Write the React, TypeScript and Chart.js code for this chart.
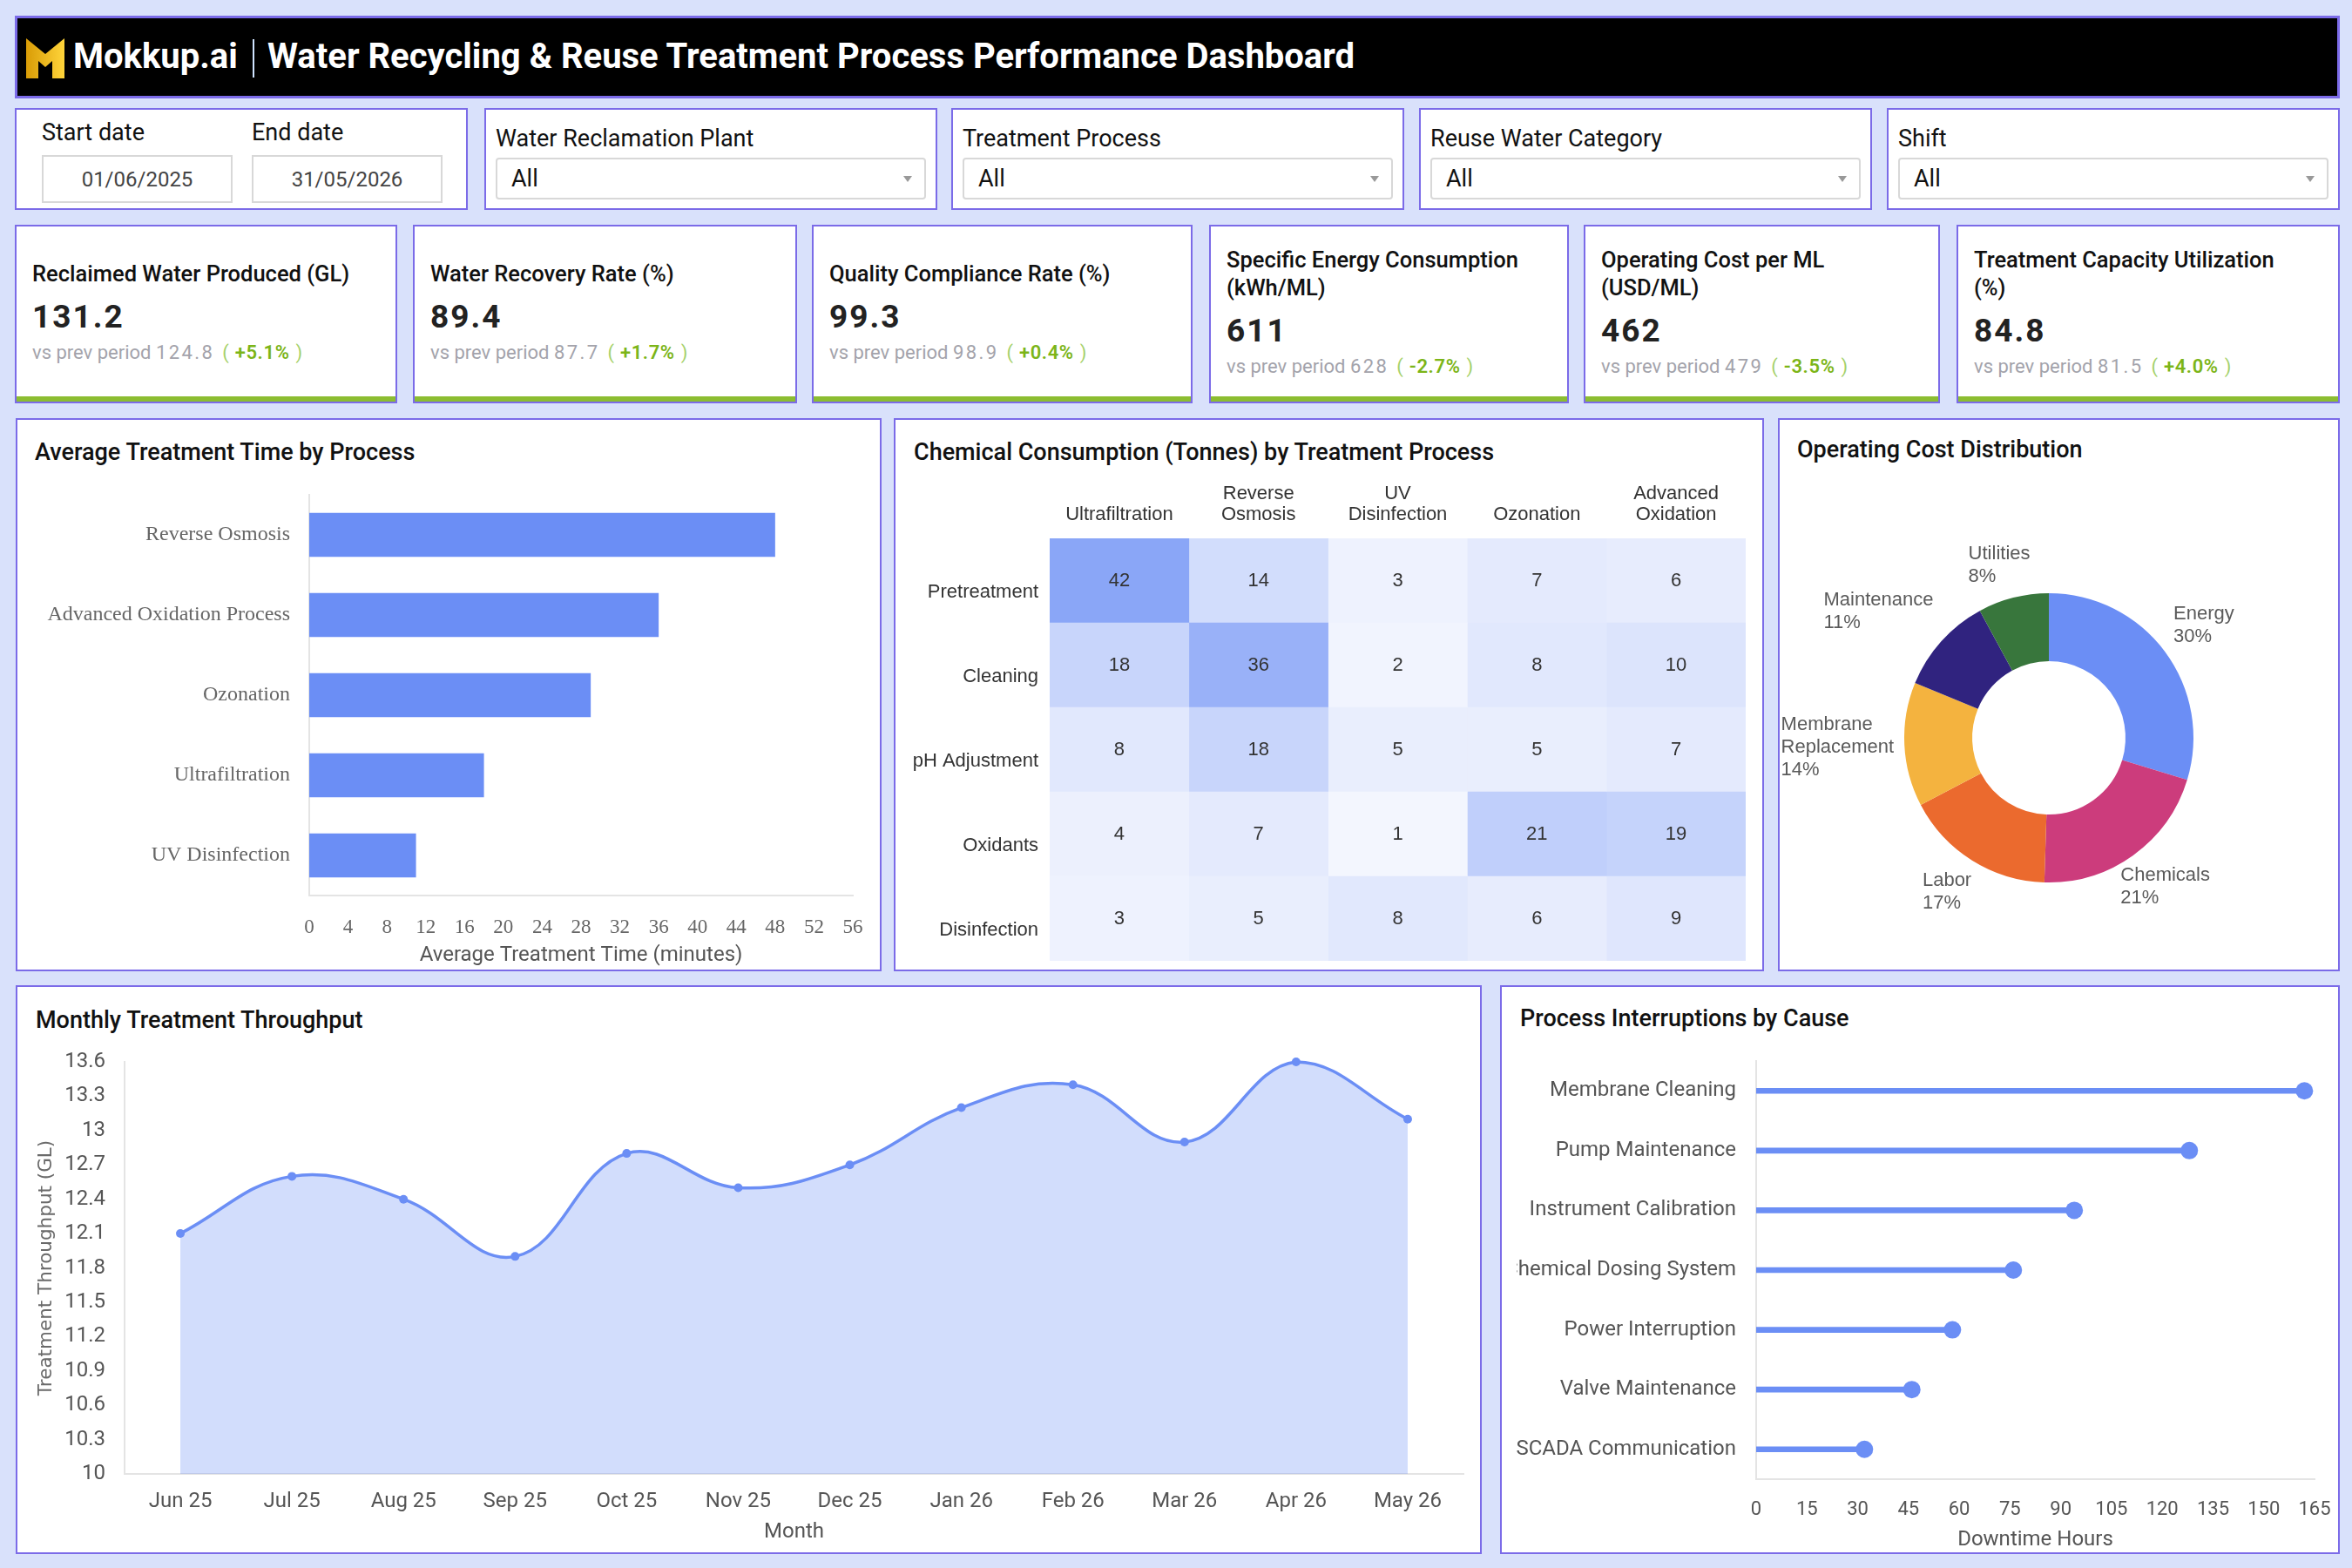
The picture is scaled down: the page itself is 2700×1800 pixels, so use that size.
import React, { useEffect, useRef } from "react";
import { Chart, registerables } from "chart.js";

Chart.register(...registerables);

const BLUE = "#6b8ef5";
const PURPLE = "#7b6be8";
const BG = "#d9e1fb";
const GREEN = "#8cbd31";
const SANS = "Roboto, 'Noto Sans', sans-serif";
const ARIAL = "'Liberation Sans', Arial, sans-serif";
const SERIF = "'Liberation Serif', 'Times New Roman', serif";
const DEJAVU = "'DejaVu Sans', sans-serif";

// ---------------- data ----------------
const kpiTitles = [
  "Reclaimed Water Produced (GL)",
  "Water Recovery Rate (%)",
  "Quality Compliance Rate (%)",
  "Specific Energy Consumption\n(kWh/ML)",
  "Operating Cost per ML\n(USD/ML)",
  "Treatment Capacity Utilization\n(%)",
];
const kpiValues = ["131.2", "89.4", "99.3", "611", "462", "84.8"];
const kpiPrev = ["124.8", "87.7", "98.9", "628", "479", "81.5"];
const kpiChange = ["+5.1%", "+1.7%", "+0.4%", "-2.7%", "-3.5%", "+4.0%"];

const filterLabels = ["Water Reclamation Plant", "Treatment Process", "Reuse Water Category", "Shift"];
const startDate = "01/06/2025";
const endDate = "31/05/2026";

const processes = ["Reverse Osmosis", "Advanced Oxidation Process", "Ozonation", "Ultrafiltration", "UV Disinfection"];
const avgTreatmentTime = [48, 36, 29, 18, 11];

const chemRows = ["Pretreatment", "Cleaning", "pH Adjustment", "Oxidants", "Disinfection"];
const chemCols = ["Ultrafiltration", "Reverse Osmosis", "UV Disinfection", "Ozonation", "Advanced Oxidation"];
const chemUltrafiltration = [42, 18, 8, 4, 3];
const chemReverseOsmosis = [14, 36, 18, 7, 5];
const chemUV = [3, 2, 5, 1, 8];
const chemOzonation = [7, 8, 5, 21, 6];
const chemAdvancedOxidation = [6, 10, 7, 19, 9];
const chemByColumn = [chemUltrafiltration, chemReverseOsmosis, chemUV, chemOzonation, chemAdvancedOxidation];

const costCategories = ["Energy", "Chemicals", "Labor", "Membrane Replacement", "Maintenance", "Utilities"];
const costShare = [30, 21, 17, 14, 11, 8];
const costColors = ["#6b8ef5", "#cc3c7c", "#eb6a2e", "#f4b33f", "#30237f", "#38763c"];

const months = ["Jun 25", "Jul 25", "Aug 25", "Sep 25", "Oct 25", "Nov 25", "Dec 25", "Jan 26", "Feb 26", "Mar 26", "Apr 26", "May 26"];
const throughput = [12.1, 12.6, 12.4, 11.9, 12.8, 12.5, 12.7, 13.2, 13.4, 12.9, 13.6, 13.1];

const causes = [
  "Membrane Cleaning",
  "Pump Maintenance",
  "Instrument Calibration",
  "Chemical Dosing System",
  "Power Interruption",
  "Valve Maintenance",
  "SCADA Communication",
];
const downtimeHours = [162, 128, 94, 76, 58, 46, 32];

// ---------------- helpers ----------------
const heatLow = [246, 248, 254];
const heatHigh = [107, 142, 245];
const heatMax = 54;
function heatColor(v: number) {
  const t = Math.min(1, v / heatMax);
  const c = heatLow.map((l, i) => Math.round(l + (heatHigh[i] - l) * t));
  return `rgb(${c[0]},${c[1]},${c[2]})`;
}

function fixSize(prop: "width" | "height", size: number) {
  return (s: any) => {
    s[prop] = size;
    s.paddingTop = 0;
    s.paddingBottom = 0;
    s.paddingLeft = 0;
    s.paddingRight = 0;
  };
}

const heatLabels = {
  id: "heatLabels",
  afterDatasetsDraw(chart: any) {
    const ctx = chart.ctx;
    ctx.save();
    ctx.font = `22px ${ARIAL}`;
    ctx.fillStyle = "#333";
    ctx.textAlign = "center";
    ctx.textBaseline = "middle";
    chart.data.datasets.forEach((ds: any, i: number) => {
      const meta = chart.getDatasetMeta(i);
      meta.data.forEach((el: any, j: number) => {
        const p = el.getProps(["x", "y", "base"], true);
        ctx.fillText(String(chemByColumn[i][j]), (p.x + p.base) / 2, p.y);
      });
    });
    ctx.restore();
  },
};

const donutLabels = {
  id: "donutLabels",
  afterDatasetsDraw(chart: any) {
    const ctx = chart.ctx;
    const meta = chart.getDatasetMeta(0);
    const data = chart.data.datasets[0].data as number[];
    const total = data.reduce((a, b) => a + b, 0);
    ctx.save();
    ctx.font = `22px ${ARIAL}`;
    ctx.fillStyle = "#5a5a5a";
    ctx.textAlign = "left";
    ctx.textBaseline = "middle";
    const lh = 26;
    meta.data.forEach((arc: any, i: number) => {
      const p = arc.getProps(["x", "y", "startAngle", "endAngle", "outerRadius"], true);
      const mid = (p.startAngle + p.endAngle) / 2;
      const dx = Math.cos(mid);
      const dy = Math.sin(mid);
      const r = p.outerRadius + 12;
      const px = p.x + dx * r;
      const py = p.y + dy * r;
      const name = String(chart.data.labels[i]);
      const lines = name.length > 12 ? name.split(" ") : [name];
      lines.push(Math.round((data[i] / total) * 100) + "%");
      const w = Math.max(...lines.map((l) => ctx.measureText(l).width));
      const h = lines.length * lh;
      const fx = dx > 0 && dy > 0 ? Math.abs(dx) : Math.min(1, 1.5 * Math.abs(dx));
      const cx = px + Math.sign(dx) * (w / 2) * fx;
      const cy = py + Math.sign(dy) * (h / 2) * Math.min(1, 1.5 * Math.abs(dy));
      lines.forEach((ln, k) => ctx.fillText(ln, cx - w / 2, cy - h / 2 + lh / 2 + k * lh));
    });
    ctx.restore();
  },
};

function ChartCanvas({ left, top, width, height, make }: any) {
  const ref = useRef<HTMLCanvasElement>(null);
  useEffect(() => {
    const chart = new Chart(ref.current as HTMLCanvasElement, make());
    return () => chart.destroy();
  }, []);
  return (
    <canvas
      ref={ref}
      width={width}
      height={height}
      style={{ position: "absolute", left, top, width, height }}
    />
  );
}

const noPlugins = { legend: { display: false }, tooltip: { enabled: false } };

function makeTreatmentTime(): any {
  return {
    type: "bar",
    data: {
      labels: processes,
      datasets: [
        { data: avgTreatmentTime, backgroundColor: BLUE, barPercentage: 0.55, categoryPercentage: 1 },
      ],
    },
    options: {
      indexAxis: "y",
      responsive: false,
      animation: false,
      devicePixelRatio: 1,
      layout: { padding: { top: 23, right: 29, bottom: 0, left: 0 } },
      plugins: noPlugins,
      scales: {
        x: {
          min: 0,
          max: 56,
          ticks: { stepSize: 4, font: { family: SERIF, size: 23 }, color: "#666", padding: 23, maxRotation: 0, autoSkip: false },
          grid: { display: false, drawTicks: false },
          border: { color: "#e4e4e4", width: 2 },
          title: {
            display: true,
            text: "Average Treatment Time (minutes)",
            font: { family: SANS, size: 24 },
            color: "#555",
            padding: { top: 0, bottom: 1 },
          },
          afterFit: fixSize("height", 84),
        },
        y: {
          ticks: { font: { family: SERIF, size: 24 }, color: "#666", padding: 22 },
          grid: { display: false, drawTicks: false },
          border: { color: "#e4e4e4", width: 2 },
          afterFit: fixSize("width", 335),
        },
      },
    },
  };
}

function makeHeatmap(): any {
  return {
    type: "bar",
    data: {
      labels: chemRows,
      datasets: chemCols.map((col, c) => ({
        label: col,
        data: chemByColumn[c].map(() => 1),
        backgroundColor: chemByColumn[c].map((v) => heatColor(v)),
        barPercentage: 1,
        categoryPercentage: 1,
        borderWidth: 0,
      })),
    },
    options: {
      indexAxis: "y",
      responsive: false,
      animation: false,
      devicePixelRatio: 1,
      layout: { padding: { top: 0, right: 18, bottom: 9, left: 0 } },
      plugins: noPlugins,
      scales: {
        x: {
          position: "top",
          stacked: true,
          min: 0,
          max: chemCols.length,
          afterBuildTicks: (axis: any) => {
            axis.ticks = chemCols.map((_, i) => ({ value: i + 0.5 }));
          },
          ticks: {
            autoSkip: false,
            maxRotation: 0,
            padding: 16,
            color: "#333",
            font: { family: ARIAL, size: 22, lineHeight: 1.05 },
            callback: (_v: any, i: number) => {
              const parts = chemCols[i].split(" ");
              return parts.length > 1 ? parts : chemCols[i];
            },
          },
          grid: { display: false, drawTicks: false },
          border: { display: false },
          afterFit: fixSize("height", 78),
        },
        y: {
          stacked: true,
          ticks: { font: { family: ARIAL, size: 22 }, color: "#333", padding: 13, labelOffset: 13 },
          grid: { display: false, drawTicks: false },
          border: { display: false },
          afterFit: fixSize("width", 177),
        },
      },
    },
    plugins: [heatLabels],
  };
}

function makeDonut(): any {
  return {
    type: "doughnut",
    data: {
      labels: costCategories,
      datasets: [{ data: costShare, backgroundColor: costColors, borderWidth: 0 }],
    },
    options: {
      responsive: false,
      animation: false,
      devicePixelRatio: 1,
      cutout: "53%",
      layout: { padding: { left: 143, right: 165, top: 141, bottom: 100 } },
      plugins: noPlugins,
    },
    plugins: [donutLabels],
  };
}

function makeThroughput(): any {
  return {
    type: "line",
    data: {
      labels: months,
      datasets: [
        {
          data: throughput,
          borderColor: BLUE,
          borderWidth: 3.5,
          backgroundColor: "rgba(107,142,245,0.3)",
          fill: "start",
          tension: 0.4,
          pointRadius: 5,
          pointBackgroundColor: BLUE,
          pointBorderColor: BLUE,
          pointBorderWidth: 0,
          clip: false,
        },
      ],
    },
    options: {
      responsive: false,
      animation: false,
      devicePixelRatio: 1,
      layout: { padding: { top: 29, right: 19, bottom: 9, left: 0 } },
      plugins: noPlugins,
      scales: {
        x: {
          offset: true,
          grid: { display: false, drawTicks: false },
          border: { color: "#e4e4e4", width: 2 },
          ticks: { font: { family: SANS, size: 24 }, color: "#555", padding: 18, maxRotation: 0, autoSkip: false },
          title: { display: true, text: "Month", font: { family: SANS, size: 24 }, color: "#555", padding: { top: 0, bottom: 0 } },
          afterFit: fixSize("height", 81),
        },
        y: {
          min: 10,
          max: 13.6,
          grid: { display: false, drawTicks: false },
          border: { color: "#e4e4e4", width: 2 },
          ticks: {
            stepSize: 0.3,
            font: { family: SANS, size: 24 },
            color: "#555",
            padding: 22,
            callback: (v: any) => String(parseFloat(Number(v).toFixed(1))),
          },
          title: {
            display: true,
            text: "Treatment Throughput (GL)",
            font: { family: DEJAVU, size: 21.5 },
            color: "#6a6a6a",
            padding: { top: 19, bottom: 0 },
          },
          afterFit: fixSize("width", 121),
        },
      },
    },
  };
}

function makeInterruptions(): any {
  return {
    type: "bar",
    data: {
      labels: causes,
      datasets: [
        { type: "bar", indexAxis: "y", data: downtimeHours, backgroundColor: BLUE, barThickness: 6 },
        {
          type: "line",
          indexAxis: "y",
          data: downtimeHours,
          showLine: false,
          pointRadius: 10,
          pointBackgroundColor: BLUE,
          pointBorderColor: BLUE,
          pointBorderWidth: 0,
          clip: false,
        },
      ],
    },
    options: {
      indexAxis: "y",
      responsive: false,
      animation: false,
      devicePixelRatio: 1,
      layout: { padding: { top: 28, right: 26, bottom: 0, left: 0 } },
      plugins: noPlugins,
      scales: {
        x: {
          min: 0,
          max: 165,
          ticks: { stepSize: 15, font: { family: SANS, size: 22 }, color: "#555", padding: 22, maxRotation: 0, autoSkip: false },
          grid: { display: false, drawTicks: false },
          border: { color: "#e4e4e4", width: 2 },
          title: { display: true, text: "Downtime Hours", font: { family: SANS, size: 24 }, color: "#555", padding: { top: 0, bottom: 0 } },
          afterFit: fixSize("height", 84),
        },
        y: {
          ticks: { font: { family: SANS, size: 24 }, color: "#555", padding: 23 },
          grid: { display: false, drawTicks: false },
          border: { color: "#e4e4e4", width: 2 },
          afterFit: fixSize("width", 275),
        },
      },
    },
  };
}

// ---------------- layout components ----------------
const boxBase: React.CSSProperties = {
  position: "absolute",
  background: "#fff",
  border: `2px solid ${PURPLE}`,
  boxSizing: "border-box",
};

function Logo() {
  return (
    <svg width={44} height={46} viewBox="0 0 44 46" style={{ position: "absolute", left: 10, top: 23 }}>
      <defs>
        <linearGradient id="lg" x1="0" y1="0" x2="1" y2="0">
          <stop offset="0" stopColor="#d99c06" />
          <stop offset="1" stopColor="#ffd43a" />
        </linearGradient>
      </defs>
      <polygon points="0,0 22,18 44,0 44,46 30,46 30,26 22,33 14,26 14,46 0,46" fill="url(#lg)" />
    </svg>
  );
}

function DateFilter() {
  const lab: React.CSSProperties = { position: "absolute", top: 11, fontSize: 27, lineHeight: "30px", color: "#111" };
  const inp: React.CSSProperties = {
    position: "absolute",
    top: 52,
    height: 55,
    border: "2px solid #d8d8d8",
    boxSizing: "border-box",
    fontSize: 24,
    color: "#444",
    display: "flex",
    alignItems: "center",
    justifyContent: "center",
  };
  return (
    <div style={{ ...boxBase, left: 17, top: 124, width: 520, height: 117 }}>
      <div style={{ ...lab, left: 29 }}>Start date</div>
      <div style={{ ...lab, left: 270 }}>End date</div>
      <div style={{ ...inp, left: 29, width: 219 }}>{startDate}</div>
      <div style={{ ...inp, left: 270, width: 219 }}>{endDate}</div>
    </div>
  );
}

function SelectFilter({ left, label }: any) {
  return (
    <div style={{ ...boxBase, left, top: 124, width: 520, height: 117 }}>
      <div style={{ position: "absolute", left: 11, top: 18, fontSize: 27, lineHeight: "30px", color: "#111" }}>
        {label}
      </div>
      <div
        style={{
          position: "absolute",
          left: 11,
          right: 11,
          top: 55,
          height: 48,
          border: "2px solid #d8d8d8",
          borderRadius: 4,
          boxSizing: "border-box",
          display: "flex",
          alignItems: "center",
          paddingLeft: 16,
          fontSize: 27,
          color: "#111",
        }}
      >
        All
        <div
          style={{
            position: "absolute",
            right: 14,
            top: 19,
            width: 0,
            height: 0,
            borderLeft: "5px solid transparent",
            borderRight: "5px solid transparent",
            borderTop: "7px solid #999",
          }}
        />
      </div>
    </div>
  );
}

function KpiCard({ left, width, i }: any) {
  const ch = kpiChange[i];
  return (
    <div style={{ ...boxBase, left, top: 258, width, height: 205 }}>
      <div
        style={{
          position: "absolute",
          left: 18,
          right: 4,
          top: 0,
          bottom: 6,
          display: "flex",
          flexDirection: "column",
          justifyContent: "center",
        }}
      >
        <div style={{ fontSize: 25.5, fontWeight: 500, lineHeight: "32px", color: "#111", whiteSpace: "pre" }}>
          {kpiTitles[i]}
        </div>
        <div style={{ marginTop: 14, fontSize: 37, fontWeight: 700, lineHeight: "40px", letterSpacing: 2, color: "#222" }}>
          {kpiValues[i]}
        </div>
        <div style={{ marginTop: 9, fontSize: 22, lineHeight: "24px", color: "#a3a3ab", whiteSpace: "nowrap" }}>
          vs prev period <span style={{ letterSpacing: 2.4 }}>{kpiPrev[i]}</span>
          <span style={{ color: "#a5d16a", marginLeft: 9 }}>(</span>
          <span style={{ color: "#7cb518", fontWeight: 600, margin: "0 7px", letterSpacing: 0.6 }}>{ch}</span>
          <span style={{ color: "#a5d16a" }}>)</span>
        </div>
      </div>
      <div style={{ position: "absolute", left: 0, right: 0, bottom: 0, height: 6, background: GREEN }} />
    </div>
  );
}

function PanelTitle({ left, top, text }: any) {
  return (
    <div
      style={{
        position: "absolute",
        left,
        top: top - 17,
        fontSize: 27,
        fontWeight: 500,
        lineHeight: "34px",
        color: "#111",
        whiteSpace: "nowrap",
      }}
    >
      {text}
    </div>
  );
}

export default function App() {
  useEffect(() => {
    document.body.style.margin = "0";
  }, []);
  return (
    <div
      style={{
        position: "absolute",
        left: 0,
        top: 0,
        width: 2700,
        height: 1800,
        background: BG,
        fontFamily: SANS,
        overflow: "hidden",
      }}
    >
      {/* header */}
      <div
        style={{
          position: "absolute",
          left: 17,
          top: 18,
          width: 2669,
          height: 95,
          background: "#000",
          border: `3px solid ${PURPLE}`,
          boxSizing: "border-box",
        }}
      >
        <Logo />
        <div
          style={{
            position: "absolute",
            left: 64,
            top: 20,
            fontSize: 40,
            lineHeight: "48px",
            fontWeight: 700,
            color: "#fff",
          }}
        >
          Mokkup.ai
        </div>
        <div style={{ position: "absolute", left: 270, top: 24, width: 2, height: 44, background: "#cfe3ff" }} />
        <div
          style={{
            position: "absolute",
            left: 287,
            top: 20,
            fontSize: 40,
            lineHeight: "48px",
            fontWeight: 700,
            color: "#fff",
            whiteSpace: "nowrap",
          }}
        >
          Water Recycling &amp; Reuse Treatment Process Performance Dashboard
        </div>
      </div>

      {/* filters */}
      <DateFilter />
      <SelectFilter left={556} label={filterLabels[0]} />
      <SelectFilter left={1092} label={filterLabels[1]} />
      <SelectFilter left={1629} label={filterLabels[2]} />
      <SelectFilter left={2166} label={filterLabels[3]} />

      {/* KPIs */}
      <KpiCard left={17} width={439} i={0} />
      <KpiCard left={474} width={441} i={1} />
      <KpiCard left={932} width={437} i={2} />
      <KpiCard left={1388} width={413} i={3} />
      <KpiCard left={1818} width={409} i={4} />
      <KpiCard left={2246} width={440} i={5} />

      {/* panels */}
      <div style={{ ...boxBase, left: 18, top: 480, width: 994, height: 635 }} />
      <div style={{ ...boxBase, left: 1026, top: 480, width: 999, height: 635 }} />
      <div style={{ ...boxBase, left: 2041, top: 480, width: 645, height: 635 }} />
      <div style={{ ...boxBase, left: 18, top: 1131, width: 1683, height: 653 }} />
      <div style={{ ...boxBase, left: 1722, top: 1131, width: 964, height: 653 }} />

      <PanelTitle left={40} top={519} text="Average Treatment Time by Process" />
      <PanelTitle left={1049} top={519} text="Chemical Consumption (Tonnes) by Treatment Process" />
      <PanelTitle left={2063} top={516} text="Operating Cost Distribution" />
      <PanelTitle left={41} top={1171} text="Monthly Treatment Throughput" />
      <PanelTitle left={1745} top={1169} text="Process Interruptions by Cause" />

      <ChartCanvas left={20} top={545} width={988} height={567} make={makeTreatmentTime} />
      <ChartCanvas left={1028} top={540} width={994} height={572} make={makeHeatmap} />
      <ChartCanvas left={2043} top={540} width={640} height={573} make={makeDonut} />
      <ChartCanvas left={22} top={1190} width={1677} height={592} make={makeThroughput} />
      <ChartCanvas left={1741} top={1190} width={942} height={592} make={makeInterruptions} />
    </div>
  );
}
